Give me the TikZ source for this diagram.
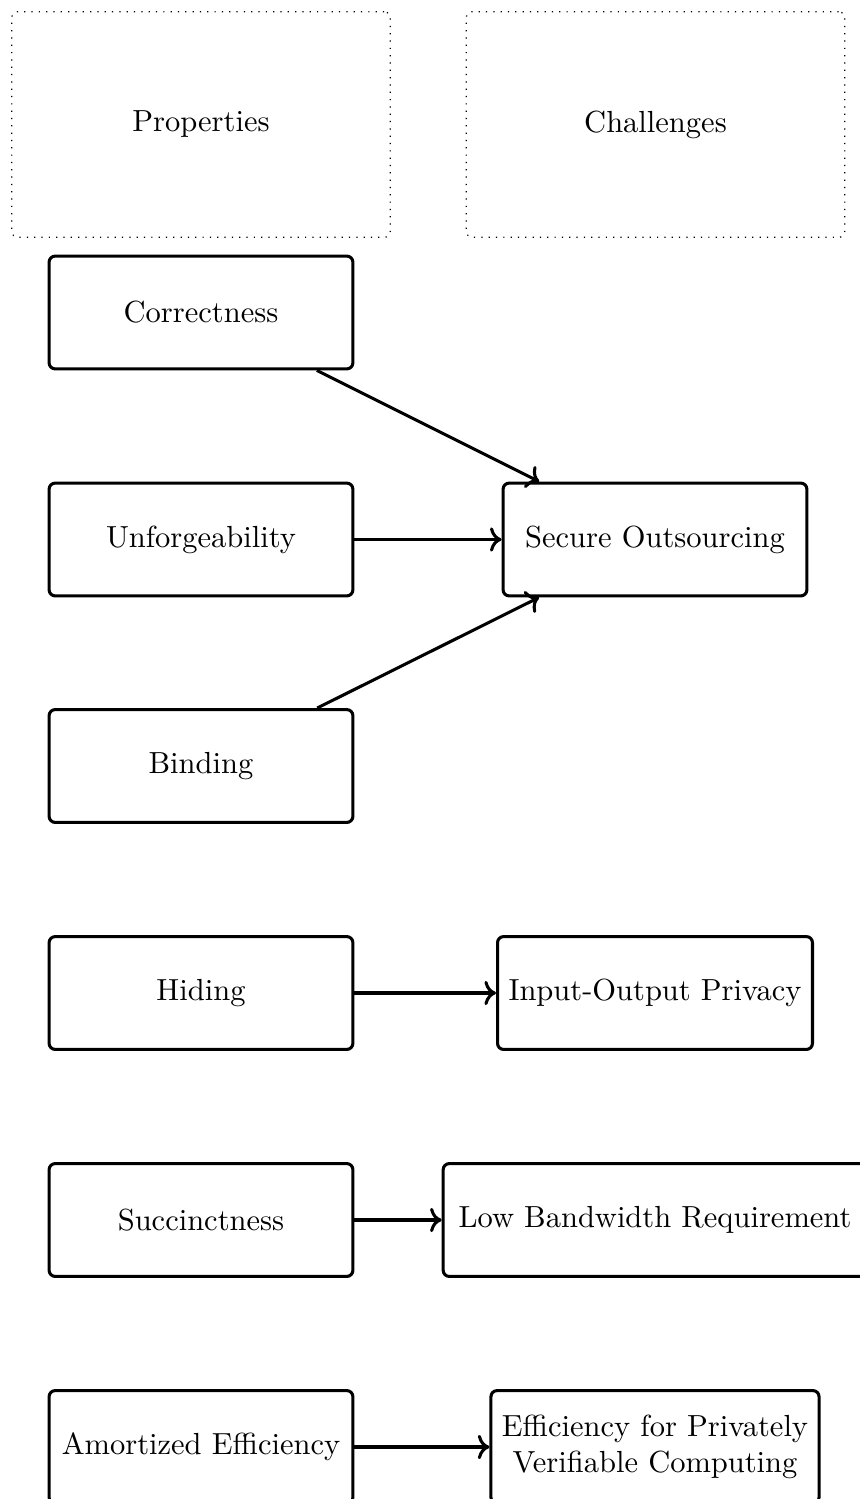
\documentclass[tikz,border=0pt]{standalone}
\usetikzlibrary{arrows.meta}
\begin{document}
\begin{tikzpicture}[x=0.011521cm, y=-0.011521cm,
  prop/.style={draw, line width=1pt, rounded corners=2pt, minimum width=3.5cm, minimum height=1.3cm, align=center, inner sep=3.6pt},
  group/.style={draw, dotted, rounded corners=2pt, minimum width=4.36cm, minimum height=2.6cm},
  link/.style={->, line width=1pt}]
\useasboundingbox (0,0) rectangle (859,1499);
\node[group] (props) at (201,124.5) {Properties};
\node[group] (chals) at (655.5,124.5) {Challenges};
\node[prop] (corr) at (201,312.5) {Correctness};
\node[prop] (unf) at (201,539.5) {Unforgeability};
\node[prop] (bind) at (201,766) {Binding};
\node[prop] (hid) at (201,993) {Hiding};
\node[prop] (succ) at (201,1220) {Succinctness};
\node[prop] (amor) at (201,1447) {Amortized Efficiency};
\node[prop] (sec) at (655,539.5) {Secure Outsourcing};
\node[prop] (io) at (655,993) {Input-Output Privacy};
\node[prop, minimum width=4.88cm] (low) at (655,1220) {Low Bandwidth Requirement};
\node[prop] (eff) at (655,1447) {Efficiency for Privately\\Verifiable Computing};
\draw[link] (corr) -- (sec);
\draw[link] (unf) -- (sec);
\draw[link] (bind) -- (sec);
\draw[link] (hid) -- (io);
\draw[link] (succ) -- (low);
\draw[link] (amor) -- (eff);
\end{tikzpicture}
\end{document}
